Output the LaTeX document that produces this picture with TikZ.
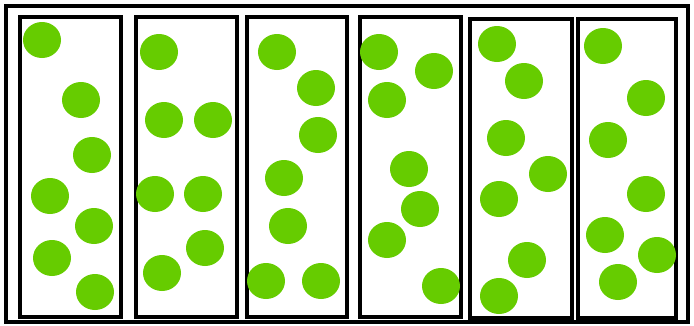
\documentclass[tikz,border=0pt]{standalone}
\usepackage{tikz}
\usetikzlibrary{calc}

\definecolor{ballgreen}{HTML}{66CC00}

\begin{document}
\begin{tikzpicture}[x=0.03cm, y=-0.03cm, line width=2.6pt]

        % 전체 크기 고정 (bounding box)
        \useasboundingbox (0,0) rectangle (694,325);

        % 바깥 테두리 (outer frame)
        \draw (6,6) rectangle (688,322);

        % 여섯 개의 칸 (columns)
        \foreach \xa/\ya/\xb/\yb in {20/17/121/317, 136/17/237/317, 247/17/347/317,
                                     360/17/461/317, 470/19/572/318, 578/19/676/318}
            \draw (\xa,\ya) rectangle (\xb,\yb);

        % 초록색 공 (balls)
        \foreach \px/\py in {
                42/40, 81/100, 92/155, 50/196, 94/226, 52/258, 95/292,       % column 1
                159/52, 164/120, 213/120, 155/194, 203/194, 205/248, 162/273, % column 2
                277/52, 316/88, 318/135, 284/178, 288/226, 266/281, 321/281, % column 3
                379/52, 434/71, 387/100, 409/169, 420/209, 387/240, 441/286, % column 4
                497/44, 524/81, 506/138, 548/174, 499/199, 527/260, 499/296, % column 5
                603/46, 646/98, 608/140, 646/194, 605/235, 657/255, 618/282} % column 6
            \fill[ballgreen] (\px,\py) ellipse (19 and 18);

\end{tikzpicture}
\end{document}
